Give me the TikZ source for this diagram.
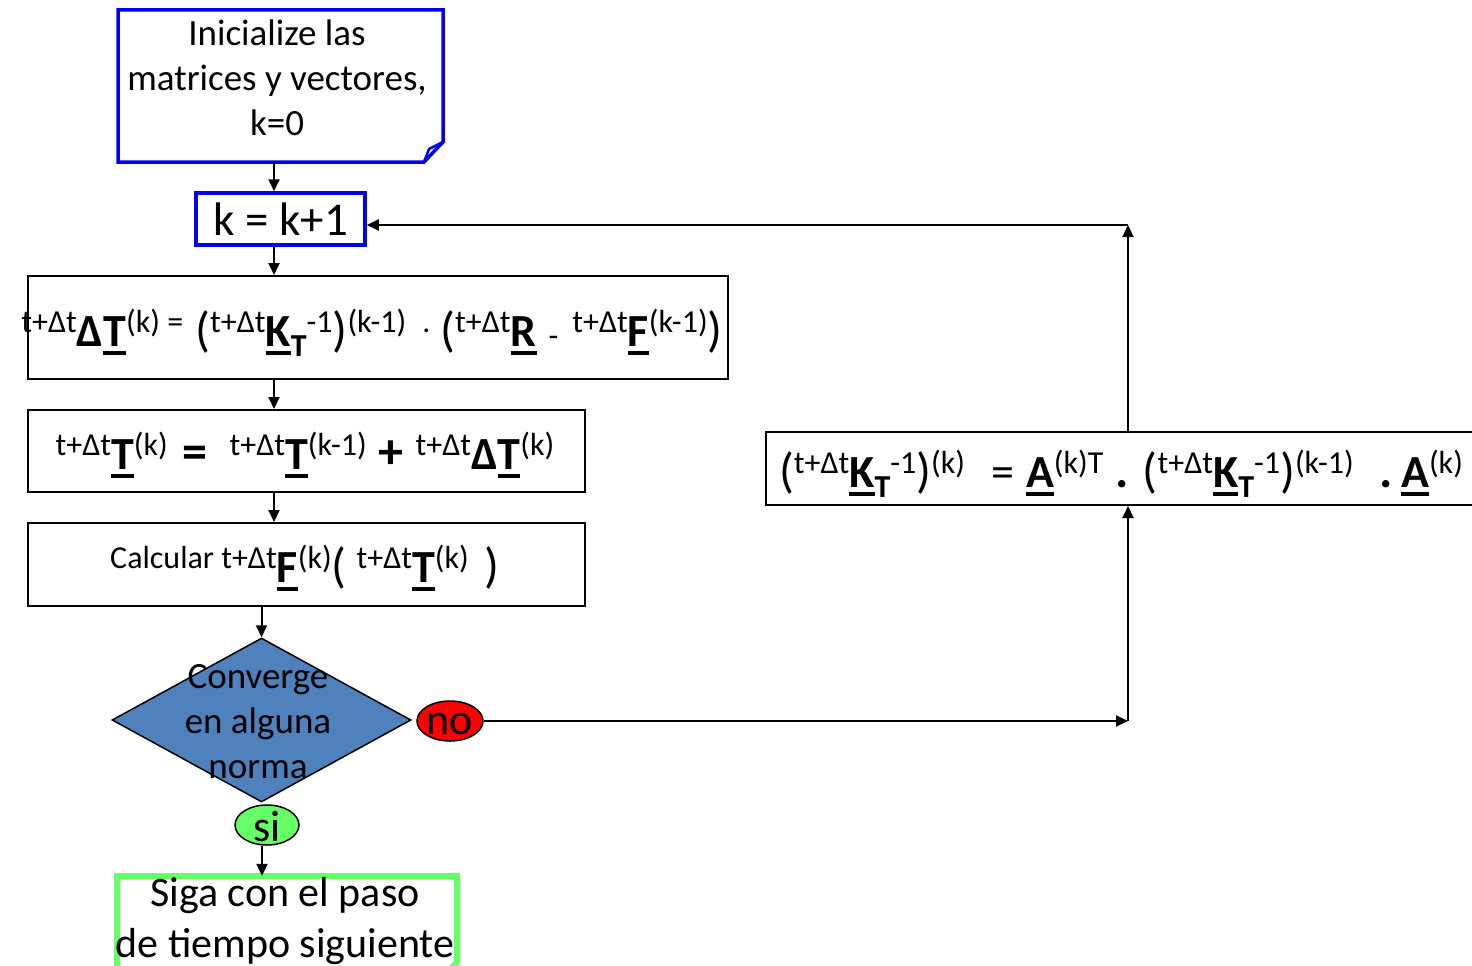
\documentclass[tikz,border=0pt]{standalone}
\usepackage{fontspec}
\setmainfont{Carlito}
\usetikzlibrary{shapes.geometric,arrows.meta}
\definecolor{bblue}{HTML}{0000F0}
\definecolor{dfill}{HTML}{4F81BD}
\definecolor{gfill}{HTML}{66FF66}
\definecolor{rfill}{HTML}{FF0000}
\newcommand\smT[1]{\raisebox{14pt}{\fontsize{32}{32}\selectfont #1}}
\newcommand\smB[1]{{\fontsize{32}{32}\selectfont #1}}
\newcommand\bigT[1]{{\fontsize{46}{46}\selectfont #1}}
\newcommand\bigP[1]{{\fontsize{49}{49}\selectfont #1}}
\newcommand\bigS[1]{{\fontsize{50}{50}\selectfont\bfseries #1}}
\newcommand\myU[1]{{\fontsize{46}{46}\selectfont\bfseries\setbox0\hbox{#1}\rlap{\rule[-9pt]{\wd0}{4pt}}\box0}}
\newcommand\subT{\raisebox{-10pt}{\fontsize{32}{32}\selectfont\bfseries T}}
\newcommand\hs[1]{\hspace*{#1pt}}
\begin{document}
\begin{tikzpicture}[x=1pt,y=-1pt,
  box/.style={draw=black,line width=2pt,inner sep=0pt},
  bluebox/.style={draw=bblue,line width=3.5pt,inner sep=0pt},
  arr/.style={line width=2pt,-{Triangle[length=12pt,width=11pt]}},
  ftext/.style={anchor=base,inner sep=0pt}]
\useasboundingbox (0,0) rectangle (1472,966);
% init box (folded corner)
\node[inner sep=0pt,minimum width=325,minimum height=152] (init) at (280.5,86) {};
\draw[bblue,line width=3.5pt,line join=miter] (118,10) -- (443,10) -- (443,142) -- (424,162) -- (118,162) -- cycle;
\draw[bblue,line width=2.5pt] (424,162) -- (429,149) -- (443,142);
\node[align=center,font=\fontsize{37}{45}\selectfont,anchor=base,inner sep=0pt] (inittxt) at (277,135) {Inicialize las\\matrices y vectores,\\k=0};
% k = k+1
\node[bluebox,minimum width=169,minimum height=52,font=\fontsize{47}{47}\selectfont] (kbox) at (280.5,219) {k = k+1};
% box3
\node[box,minimum width=700,minimum height=103] (b3) at (378,327.5) {};
\node[ftext] (f3) at (372,346) {\smT{t+Δt}\bigT{\bfseries Δ}\myU{T}\smT{(k) =}\hs{12}\bigP{(}\smT{t+Δt}\myU{K}\subT\smT{-1}\bigP{)}\smT{(k-1)\hs{16}.\hs{10}}\bigP{(}\smT{t+Δt}\myU{R}\hs{12}\smB{-}\hs{14}\smT{t+Δt}\myU{F}\smT{(k-1)}\bigP{)}};
% box4
\node[box,minimum width=557,minimum height=82] (b4) at (306.5,451) {};
\node[ftext] (f4) at (305,469) {\smT{t+Δt}\myU{T}\smT{(k)}\hs{15}\raisebox{1pt}{\bigS{=}}\hs{22}\smT{t+Δt}\myU{T}\smT{(k-1)}\hs{12}\raisebox{1pt}{\bigS{+}}\hs{12}\smT{t+Δt}\bigT{\bfseries Δ}\myU{T}\smT{(k)}};
% box5
\node[box,minimum width=557,minimum height=83] (b5) at (306.5,564.5) {};
\node[ftext] (f5) at (305,582) {\smT{Calcular t+Δt}\myU{F}\smT{(k)}\bigP{(}\hs{10}\smT{t+Δt}\myU{T}\smT{(k)}\hs{16}\bigP{)}};
% diamond
\node[diamond,draw=black,line width=1.5pt,fill=dfill,minimum width=299,minimum height=164,inner sep=0pt] (dec) at (261.5,720) {};
\node[align=center,font=\fontsize{37}{45}\selectfont,inner sep=0pt] (dectxt) at (258,722) {Converge\\en alguna\\norma};
% no / si
\node[ellipse,draw=black,line width=1.5pt,fill=rfill,minimum width=66,minimum height=40,inner sep=0pt] (no) at (450,721) {};
\node[font=\fontsize{44}{44}\selectfont,inner sep=0pt] (notxt) at (450,724) {no};
\node[ellipse,draw=black,line width=1.5pt,fill=gfill,minimum width=64,minimum height=40,inner sep=0pt] (si) at (267,825) {};
\node[font=\fontsize{44}{44}\selectfont,inner sep=0pt] (sitxt) at (267,827) {si};
% box6
\node[box,minimum width=710,minimum height=73] (b6) at (1121,468.5) {};
\node[ftext] (f6) at (1121,487) {\bigP{(}\smT{t+Δt}\myU{K}\subT\smT{-1}\bigP{)}\smT{(k)}\hs{26}\bigT{=}\hs{12}\myU{A}\smT{(k)T}\hs{12}\bigS{.}\hs{14}\bigP{(}\smT{t+Δt}\myU{K}\subT\smT{-1}\bigP{)}\smT{(k-1)}\hs{26}\bigS{.}\hs{8}\myU{A}\smT{(k)}};
% siga box
\node[inner sep=0pt,minimum width=340,minimum height=104] (siga) at (287,928) {};
\draw[gfill,line width=6pt,line join=miter] (117,876) -- (457,876) -- (457,962) -- (441,980) -- (117,980) -- cycle;
\node[align=center,font=\fontsize{42}{51}\selectfont,anchor=base,inner sep=0pt] (sigatxt) at (285,957) {Siga con el paso\\de tiempo siguiente};
% connectors
\coordinate (xa) at (274,0);
\coordinate (xc) at (262,0);
\coordinate (c1) at (1128,721);
\coordinate (c2) at (1128,225);
\draw[arr] (init.south -| xa) -- (kbox.north -| xa);
\draw[arr] (kbox.south -| xa) -- (b3.north -| xa);
\draw[arr] (b3.south -| xa) -- (b4.north -| xa);
\draw[arr] (b4.south -| xa) -- (b5.north -| xa);
\draw[arr] (b5.south -| dec.north) -- (dec.north);
\draw[arr] (si.south -| xc) -- (siga.north -| xc);
\draw[arr] (no.east) -- (c1);
\draw[arr] (c1) -- (b6.south -| c1);
\draw[arr] (b6.north -| c1) -- (c2);
\draw[arr] (c2) -- (kbox.east |- c2);
\end{tikzpicture}
\end{document}
